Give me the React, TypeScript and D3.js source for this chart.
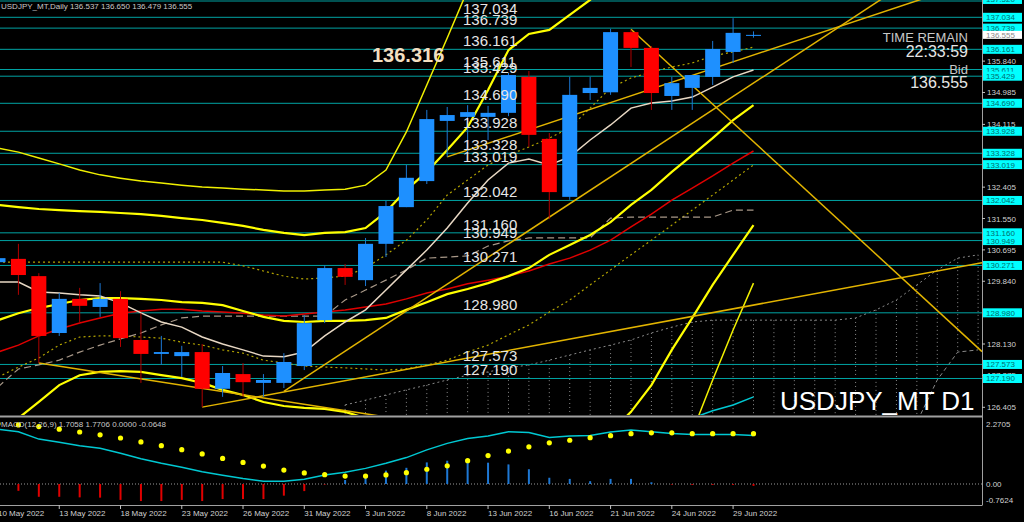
import React from 'react';
import * as d3 from 'd3';

const barDates = ['10 May','11 May','12 May','13 May','16 May','17 May','18 May','19 May','20 May','23 May','24 May','25 May','26 May','27 May','30 May','31 May','1 Jun','2 Jun','3 Jun','6 Jun','7 Jun','8 Jun','9 Jun','10 Jun','13 Jun','14 Jun','15 Jun','16 Jun','17 Jun','20 Jun','21 Jun','22 Jun','23 Jun','24 Jun','27 Jun','28 Jun','29 Jun','30 Jun'];
const opens  = [130.36,130.45,129.98,128.43,129.36,129.14,129.36,128.24,127.86,127.80,127.91,126.91,127.31,127.07,127.07,127.53,128.78,130.20,129.87,130.86,131.86,132.57,134.21,134.32,134.32,134.43,135.41,133.72,132.14,134.97,134.99,136.63,136.20,134.89,135.11,135.41,136.09,136.537];
const highs  = [130.60,130.86,130.06,129.52,129.66,129.79,129.57,128.97,128.35,128.08,128.13,127.53,127.61,127.31,127.88,128.92,130.28,130.31,131.02,132.03,133.01,134.51,134.59,134.64,134.62,135.52,135.57,133.88,135.41,135.41,136.72,136.69,136.25,135.41,135.46,136.39,137.01,136.650];
const lows   = [130.10,129.47,127.61,128.35,128.73,128.87,128.05,127.07,127.56,127.23,126.41,126.69,126.69,126.69,126.93,127.42,128.70,129.74,129.71,130.50,131.86,132.49,133.23,133.34,133.69,134.34,133.50,131.54,132.06,134.78,134.92,135.68,134.51,134.51,134.51,135.19,135.79,136.479];
const closes = [130.47,130.01,128.35,129.36,129.17,129.36,128.29,127.86,127.91,127.91,126.91,127.34,127.09,127.15,127.64,128.70,130.20,129.96,130.86,131.89,132.66,134.26,134.37,134.45,134.43,135.46,133.83,132.27,134.92,135.11,136.63,136.20,134.97,135.24,135.46,136.17,136.61,136.555];

const tenkan = [129.82,129.82,129.55,129.52,129.47,129.44,129.25,128.98,128.73,128.59,128.32,128.13,127.97,127.80,127.78,127.91,128.35,128.73,129.06,129.60,130.15,130.69,131.29,131.97,132.60,133.06,133.17,133.01,133.23,133.69,134.10,134.56,134.70,134.75,134.86,135.13,135.41,135.60];
const redMA = [127.91,128.10,128.35,128.54,128.70,128.84,128.97,129.03,129.08,129.08,129.03,129.00,128.97,128.92,128.89,128.95,129.00,129.06,129.14,129.22,129.36,129.52,129.63,129.77,129.87,129.98,130.12,130.31,130.47,130.69,130.96,131.32,131.67,132.05,132.38,132.71,133.06,133.39];
const bbMid = [128.78,128.97,129.11,129.22,129.33,129.38,129.38,129.36,129.33,129.27,129.25,129.19,129.03,128.87,128.76,128.73,128.76,128.76,128.78,128.84,129.06,129.27,129.49,129.63,129.79,129.98,130.20,130.56,130.83,131.10,131.45,131.92,132.33,132.82,133.28,133.74,134.23,134.64];
const bbUp2 = [131.92,131.86,131.81,131.78,131.75,131.73,131.70,131.67,131.62,131.56,131.51,131.43,131.35,131.24,131.16,131.10,131.16,131.18,131.29,131.73,132.33,132.82,133.42,134.04,135.05,136.14,136.58,136.69,137.10,137.51,138.05,null,null,null,null,null,null,null];
const bbLo2 = [125.65,126.11,126.55,127.01,127.28,127.37,127.39,127.37,127.28,127.20,127.07,126.88,126.74,126.55,126.44,126.39,126.36,126.28,126.11,125.92,125.73,125.51,125.30,125.10,124.97,124.83,124.75,124.70,124.83,125.24,125.73,126.28,127.01,127.97,128.84,129.74,130.56,131.37];
const bbUp3 = [133.47,133.36,133.20,133.04,132.87,132.74,132.65,132.57,132.52,132.46,132.41,132.38,132.35,132.33,132.30,132.30,132.33,132.35,132.46,132.87,133.91,135.19,136.47,137.78,138.80,null,null,null,null,null,null,null,null,null,null,null,null,null];
const bbLo3 = [null,null,null,null,null,null,null,null,null,null,null,null,null,null,null,null,null,null,null,null,null,null,null,null,null,null,null,null,null,null,122.5,123.3,124.0,124.70,125.73,127.15,128.51,129.79];
const kijun = [126.96,127.45,127.56,127.69,127.91,128.10,128.27,128.43,128.65,128.84,128.89,128.89,128.89,128.89,128.89,128.89,128.89,129.33,129.60,129.87,130.15,130.47,130.50,130.53,130.80,130.94,131.02,131.02,131.02,131.02,131.56,131.59,131.59,131.59,131.59,131.59,131.78,131.78];
const dotUpper = [130.36,130.36,130.36,130.36,130.36,130.36,130.36,130.36,130.36,130.36,130.36,130.36,130.26,130.12,129.98,129.90,129.93,129.98,130.20,130.56,130.96,131.51,132.19,132.60,133.01,133.28,133.50,133.74,134.02,134.56,135.11,135.38,135.54,135.68,135.79,135.98,136.09,136.22];
const dotLower = [127.23,127.50,127.75,128.10,128.32,128.35,128.35,128.32,128.29,128.18,128.10,127.97,127.88,127.69,127.61,127.53,127.50,127.48,127.45,127.42,127.45,127.56,127.69,127.91,128.10,128.38,128.65,129.00,129.33,129.74,130.15,130.56,130.96,131.37,131.78,132.19,132.60,133.01];
const cyanLow = [null,null,null,null,null,null,null,null,null,null,null,null,null,null,null,null,null,null,null,null,null,null,null,null,null,null,null,null,null,null,null,null,null,125.9,126.11,126.31,126.47,126.69];
// Ichimoku cloud (shifted forward), indices 17..48
const cloudStart = 17;
const cloudTop = [126.47,126.60,126.74,126.88,127.01,127.15,127.28,127.37,127.48,127.56,127.69,127.83,127.97,128.10,128.24,128.43,128.59,128.73,128.78,128.78,128.78,128.78,128.78,128.78,128.78,128.84,129.06,129.33,129.74,130.15,130.47,130.56];
const cloudBot = [125.5,125.5,125.5,125.5,125.5,125.5,125.5,125.5,125.5,125.5,125.5,125.5,125.5,125.5,125.5,125.5,125.5,125.5,125.5,125.5,125.5,125.5,125.5,125.5,125.5,125.5,125.5,125.5,126.0,127.15,127.91,127.97];

const levels = [137.52,137.034,136.739,136.161,135.611,135.429,134.690,133.928,133.328,133.019,132.042,131.160,130.949,130.271,128.980,127.573,127.190];
const axisTicks = [135.840,134.985,134.115,132.405,131.550,130.695,129.840,128.130,127.275,126.405];
const tickIdx = [0,3,6,9,12,15,18,21,24,27,30,33,36];
const tickLabels = ['10 May 2022','13 May 2022','18 May 2022','23 May 2022','26 May 2022','31 May 2022','3 Jun 2022','8 Jun 2022','13 Jun 2022','16 Jun 2022','21 Jun 2022','24 Jun 2022','29 Jun 2022'];

const trendLines = [
  { i1: 31, p1: 136.71, i2: 40, p2: 132.11 },
  { i1: 10, p1: 126.41, i2: 40, p2: 129.50 },
  { i1: 22, p1: 133.23, i2: 40, p2: 136.56 },
  { i1: 14, p1: 126.84, i2: 35, p2: 134.51 },
  { i1: 2, p1: 127.61, i2: 13, p2: 126.66 },
];

const macdMain = [1.93,1.84,1.58,1.47,1.35,1.26,1.08,0.89,0.73,0.59,0.43,0.31,0.19,0.095,0.095,0.165,0.32,0.41,0.55,0.73,0.93,1.20,1.43,1.60,1.69,1.84,1.81,1.64,1.69,1.71,1.83,1.90,1.84,1.78,1.74,1.74,1.74,1.7058];
const macdSignal = [2.12,2.08,2.02,1.93,1.83,1.73,1.62,1.48,1.35,1.21,1.06,0.90,0.76,0.63,0.49,0.39,0.33,0.28,0.28,0.32,0.40,0.52,0.64,0.82,1.00,1.16,1.31,1.45,1.54,1.63,1.70,1.77,1.80,1.80,1.77,1.77,1.77,1.7706];
const macdHist = [-0.19,-0.24,-0.45,-0.45,-0.47,-0.48,-0.56,-0.60,-0.60,-0.56,-0.60,-0.53,-0.53,-0.53,-0.41,-0.25,-0.02,0.14,0.28,0.47,0.57,0.76,0.82,0.81,0.75,0.69,0.52,0.22,0.18,0.10,0.18,0.18,0.06,-0.02,-0.03,-0.03,-0.03,-0.0648];

const W = 1024, H = 522;
const AX = 982;
const MAIN_B = 415;
const M_TOP = 418, M_BOT = 505;
const FONT = "'Liberation Sans', Arial, sans-serif";

export default function App() {
  const x = d3.scaleLinear().domain([0, 37]).range([-2, 753.5]);
  const y = d3.scaleLinear().domain([137.034, 126.405]).range([17.3, 407.3]);
  const my = d3.scaleLinear().domain([0, 1.7706]).range([484, 433.7]);

  const mkLine = (arr: (number | null)[], start = 0) =>
    d3.line<number | null>()
      .defined(d => d !== null)
      .x((_, i) => x(i + start))
      .y(d => y(d as number))(arr) || '';

  const macdLine = d3.line<number>().x((_, i) => x(i)).y(d => my(d))(macdMain) || '';

  const trendPath = (t: any) => {
    const x1 = x(t.i1), y1 = y(t.p1), x2 = x(t.i2), y2 = y(t.p2);
    const s = (y2 - y1) / (x2 - x1);
    return `M${x1},${y1}L${AX},${y1 + s * (AX - x1)}`;
  };

  const bw = 15;
  return (
    <svg width={W} height={H} style={{ position: 'fixed', left: 0, top: 0, background: '#000' }}>
      <defs>
        <clipPath id="mainClip"><rect x={0} y={0} width={AX} height={MAIN_B} /></clipPath>
        <clipPath id="macdClip"><rect x={0} y={M_TOP} width={AX} height={M_BOT - M_TOP} /></clipPath>
      </defs>
      <rect x={0} y={0} width={W} height={H} fill="#000" />
      <g clipPath="url(#mainClip)">
        {/* cloud */}
        {cloudTop.map((t, k) => (
          <line key={'cv' + k} x1={x(cloudStart + k)} x2={x(cloudStart + k)} y1={y(t)} y2={y(cloudBot[k])}
            stroke="#8a8a8a" strokeWidth={1} strokeDasharray="1,3" />
        ))}
        <path d={mkLine(cloudTop, cloudStart)} fill="none" stroke="#8a8a8a" strokeWidth={1} strokeDasharray="2,3" />
        <path d={mkLine(cloudBot, cloudStart)} fill="none" stroke="#8a8a8a" strokeWidth={1} strokeDasharray="4,3" />
        {/* horizontal levels */}
        {levels.map((l, k) => (
          <line key={'lv' + k} x1={0} x2={AX} y1={Math.max(1, y(l))} y2={Math.max(1, y(l))} stroke="#00a3a3" strokeWidth={1} />
        ))}
        {/* indicators */}
        <path d={mkLine(dotUpper)} fill="none" stroke="#b3a400" strokeWidth={1.2} strokeDasharray="2,3" />
        <path d={mkLine(dotLower)} fill="none" stroke="#b3a400" strokeWidth={1.2} strokeDasharray="2,3" />
        <path d={mkLine(kijun)} fill="none" stroke="#a89888" strokeWidth={1.2} strokeDasharray="7,4" />
        <path d={mkLine(redMA)} fill="none" stroke="#e00000" strokeWidth={1.5} />
        <path d={mkLine(cyanLow)} fill="none" stroke="#00c8d2" strokeWidth={1.5} />
        <path d={mkLine(bbUp3)} fill="none" stroke="#f0f000" strokeWidth={1.5} />
        <path d={mkLine(bbLo3)} fill="none" stroke="#f0f000" strokeWidth={1.5} />
        <path d={mkLine(bbUp2)} fill="none" stroke="#ffff00" strokeWidth={2.2} />
        <path d={mkLine(bbLo2)} fill="none" stroke="#ffff00" strokeWidth={2.2} />
        <path d={mkLine(bbMid)} fill="none" stroke="#ffff00" strokeWidth={2.2} />
        <path d={mkLine(tenkan)} fill="none" stroke="#e8d8c4" strokeWidth={1.5} />
        {trendLines.map((t, k) => (
          <path key={'tl' + k} d={trendPath(t)} fill="none" stroke="#e2b400" strokeWidth={1.5} />
        ))}
        {/* candles */}
        {opens.map((o, i) => {
          const c = closes[i];
          const up = c >= o;
          const top = y(Math.max(o, c)), bot = y(Math.min(o, c));
          return (
            <g key={'c' + i}>
              <line x1={x(i)} x2={x(i)} y1={y(highs[i])} y2={y(lows[i])} stroke={up ? '#1c78d4' : '#b00000'} strokeWidth={1} />
              <rect x={x(i) - bw / 2} y={top} width={bw} height={Math.max(1, bot - top)} fill={up ? '#1e90ff' : '#ff0000'} />
            </g>
          );
        })}
        {/* level labels */}
        {levels.slice(1).map((l, k) => (
          <text key={'lt' + k} x={463} y={y(l) - 3} fill="#e6e6e6" fontSize={15} fontFamily={FONT}>{l.toFixed(3)}</text>
        ))}
        <text x={372} y={62} fill="#f3dfc1" fontSize={20} fontWeight="bold" fontFamily={FONT}>136.316</text>
        <text x={968} y={42} fill="#c8c8c8" fontSize={13} textAnchor="end" fontFamily={FONT}>TIME REMAIN</text>
        <text x={968} y={57} fill="#e6e6e6" fontSize={16} textAnchor="end" fontFamily={FONT}>22:33:59</text>
        <text x={968} y={74} fill="#c8c8c8" fontSize={13} textAnchor="end" fontFamily={FONT}>Bid</text>
        <text x={968} y={88} fill="#e6e6e6" fontSize={16} textAnchor="end" fontFamily={FONT}>136.555</text>
        <text x={1} y={9} fill="#c8c8c8" fontSize={8} fontFamily={FONT}>USDJPY_MT,Daily  136.537 136.650 136.479 136.555</text>
      </g>
      <text x={780} y={410} fill="#ffffff" fontSize={26} fontFamily={FONT}>USDJPY_MT D1</text>

      {/* MACD panel */}
      <g clipPath="url(#macdClip)">
        <line x1={0} x2={AX} y1={my(0)} y2={my(0)} stroke="#9a9a9a" strokeWidth={1} strokeDasharray="1,2" />
        {macdHist.map((h, i) => (
          <line key={'h' + i} x1={x(i)} x2={x(i)} y1={my(0)} y2={my(h)} stroke={h >= 0 ? '#1e78d4' : '#e00000'} strokeWidth={2} />
        ))}
        <path d={macdLine} fill="none" stroke="#00c8d2" strokeWidth={1.5} />
        {macdSignal.map((s, i) => (
          <circle key={'s' + i} cx={x(i)} cy={my(s)} r={2.6} fill="#ffff00" />
        ))}
        <text x={1} y={427} fill="#c8c8c8" fontSize={8} fontFamily={FONT}>MACD(12,26,9) 1.7058 1.7706 0.0000 -0.0648</text>
      </g>

      {/* frames */}
      <line x1={0} x2={AX} y1={416.5} y2={416.5} stroke="#a0a0a0" strokeWidth={2} />
      <line x1={0} x2={AX} y1={505.5} y2={505.5} stroke="#a0a0a0" strokeWidth={1} />
      <line x1={AX + 0.5} x2={AX + 0.5} y1={0} y2={505.5} stroke="#a0a0a0" strokeWidth={1} />

      {/* price axis */}
      {axisTicks.map((t, k) => (
        <g key={'at' + k}>
          <line x1={AX} x2={AX + 3} y1={y(t)} y2={y(t)} stroke="#c0c0c0" />
          <text x={987} y={y(t) + 3} fill="#d0d0d0" fontSize={8} fontFamily={FONT}>{t.toFixed(3)}</text>
        </g>
      ))}
      {levels.map((l, k) => (
        <g key={'ab' + k}>
          <rect x={983} y={y(l) - 4.5} width={39} height={9} fill="#00ffff" />
          <text x={986} y={y(l) + 3} fill="#006e6e" fontSize={8} fontFamily={FONT}>{l.toFixed(3)}</text>
        </g>
      ))}
      <rect x={983} y={y(136.555) - 4} width={39} height={8} fill="#ffffff" />
      <text x={986} y={y(136.555) + 3} fill="#8a8a8a" fontSize={8} fontFamily={FONT}>136.555</text>

      {/* MACD axis */}
      <text x={986} y={427} fill="#d0d0d0" fontSize={8} fontFamily={FONT}>2.2705</text>
      <text x={986} y={487} fill="#d0d0d0" fontSize={8} fontFamily={FONT}>0.00</text>
      <text x={986} y={503} fill="#d0d0d0" fontSize={8} fontFamily={FONT}>-0.7624</text>

      {/* time axis */}
      {tickIdx.map((ti, k) => (
        <g key={'tt' + k}>
          <line x1={x(ti)} x2={x(ti)} y1={505} y2={509} stroke="#c0c0c0" />
          <text x={x(ti)} y={516} fill="#d0d0d0" fontSize={8} fontFamily={FONT}>{tickLabels[k]}</text>
        </g>
      ))}
      <text x={-100} y={-100} fontSize={1}>{barDates.length}</text>
    </svg>
  );
}
